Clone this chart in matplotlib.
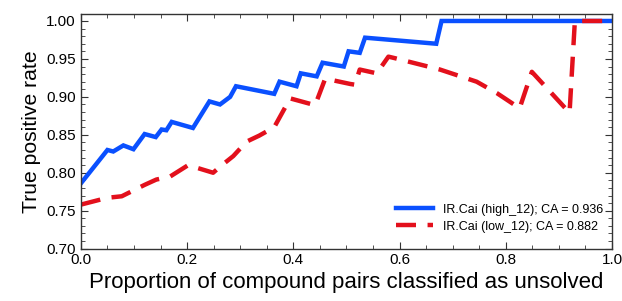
import numpy as np
import matplotlib
matplotlib.use('Agg')
import matplotlib.pyplot as plt
from matplotlib.ticker import MultipleLocator

plt.rcParams['font.family'] = ['Liberation Sans', 'DejaVu Sans']

# IR.Cai (high_12)
high_x = [0.0, 0.050, 0.061, 0.080, 0.099, 0.120, 0.141, 0.152, 0.161, 0.171, 0.211,
          0.242, 0.262, 0.281, 0.292, 0.364, 0.374, 0.406, 0.414, 0.444, 0.455, 0.495,
          0.504, 0.525, 0.535, 0.669, 0.679, 1.0]
high_y = [0.786, 0.830, 0.828, 0.836, 0.831, 0.851, 0.847, 0.857, 0.856, 0.867, 0.859,
          0.894, 0.890, 0.900, 0.914, 0.904, 0.920, 0.914, 0.931, 0.927, 0.945, 0.940,
          0.960, 0.958, 0.978, 0.970, 1.0, 1.0]

# IR.Cai (low_12)
low_x = [0.0, 0.050, 0.077, 0.120, 0.142, 0.168, 0.202, 0.249, 0.262, 0.287, 0.312,
         0.336, 0.364, 0.394, 0.441, 0.460, 0.507, 0.516, 0.525, 0.557, 0.579, 0.591,
         0.676, 0.745, 0.783, 0.826, 0.849, 0.920, 0.930, 1.0]
low_y = [0.758, 0.767, 0.769, 0.784, 0.791, 0.795, 0.810, 0.800, 0.808, 0.822, 0.841,
         0.849, 0.860, 0.898, 0.889, 0.924, 0.917, 0.916, 0.936, 0.931, 0.953, 0.951,
         0.936, 0.920, 0.905, 0.885, 0.933, 0.879, 1.0, 1.0]

labels = ['IR.Cai (high_12); CA = 0.936', 'IR.Cai (low_12); CA = 0.882']

fig = plt.figure(figsize=(6.22, 3.01), dpi=100)
ax = fig.add_axes([0.130, 0.174, 0.854, 0.779])

ax.plot(high_x, high_y, color='#0a50ff', lw=3.2, label=labels[0], solid_joinstyle='miter')
ax.plot(low_x, low_y, color='#e3101c', lw=3.2, dashes=(4.5, 2.6), label=labels[1])

ax.set_xlim(0, 1.0)
ax.set_ylim(0.70, 1.009)
ax.xaxis.set_major_locator(MultipleLocator(0.2))
ax.xaxis.set_minor_locator(MultipleLocator(0.05))
ax.yaxis.set_major_locator(MultipleLocator(0.05))
ax.yaxis.set_minor_locator(MultipleLocator(0.01))
ax.tick_params(which='both', direction='in', top=True, right=True, labelsize=11,
               color='#333333')
ax.tick_params(which='major', length=5)
ax.tick_params(which='minor', length=3)
for s in ax.spines.values():
    s.set_color('#333333')
    s.set_linewidth(1.0)

ax.set_xlabel('Proportion of compound pairs classified as unsolved', fontsize=16,
              labelpad=3)
ax.set_ylabel('True positive rate', fontsize=15.2)

ax.legend(loc='lower right', bbox_to_anchor=(1.0, 0.03), frameon=False, fontsize=9,
          handlelength=3, borderaxespad=0.3, labelspacing=0.4)

fig.savefig('out.png', dpi=100)
